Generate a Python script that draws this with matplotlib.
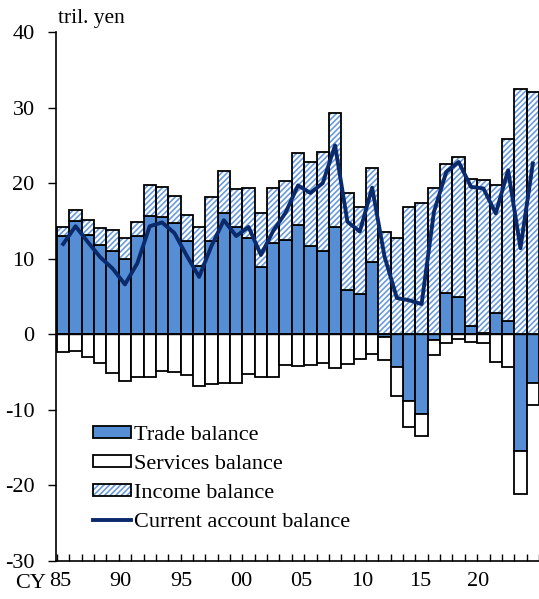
import matplotlib
matplotlib.use("Agg")
import matplotlib.pyplot as plt
import matplotlib.patches as mpatches
from matplotlib.lines import Line2D
import numpy as np

# ── colours ──────────────────────────────────────────────────────────────────
C_TRADE = "#558ED5"
C_HATCH = "#6A9BDD"
C_LINE = "#0B2A6B"

plt.rcParams["font.family"] = ["Liberation Serif", "DejaVu Serif"]
plt.rcParams["hatch.linewidth"] = 1.2
plt.rcParams["axes.unicode_minus"] = False

# ── data (tril. yen, calendar years) ─────────────────────────────────────────
years = list(range(1985, 2024))
trade = [13.0, 15.0, 13.2, 11.8, 11.0, 10.0, 13.0, 15.7, 15.5, 14.7,
         12.3, 9.1, 12.4, 16.0, 14.2, 12.7, 8.9, 12.1, 12.5, 14.4,
         11.7, 11.0, 14.2, 5.8, 5.3, 9.5, -0.3, -4.3, -8.8, -10.5,
         -0.8, 5.5, 4.9, 1.1, 0.2, 2.8, 1.8, -15.5, -6.5]
services = [-2.3, -2.2, -3.0, -3.8, -5.1, -6.2, -5.7, -5.6, -4.9, -5.0,
            -5.4, -6.8, -6.6, -6.5, -6.4, -5.2, -5.7, -5.7, -4.1, -4.2,
            -4.1, -3.8, -4.4, -3.9, -3.3, -2.6, -3.1, -3.8, -3.5, -3.0,
            -2.0, -1.1, -0.6, -1.0, -1.1, -3.7, -4.3, -5.6, -2.9]
income = [1.2, 1.5, 1.9, 2.3, 2.8, 2.7, 1.8, 4.1, 4.0, 3.6,
          3.5, 5.1, 5.8, 5.6, 5.0, 6.7, 7.2, 7.3, 7.8, 9.6,
          11.1, 13.1, 15.1, 12.9, 11.6, 12.5, 13.5, 12.8, 16.8, 17.4,
          19.4, 17.0, 18.6, 19.4, 20.2, 16.9, 24.0, 32.5, 32.1]
current = [11.95, 14.3, 12.2, 10.2, 8.7, 6.6, 9.4, 14.3, 14.8, 13.4,
           10.4, 7.6, 11.7, 15.1, 13.0, 14.2, 10.5, 13.7, 16.1, 19.7,
           18.7, 20.0, 25.0, 14.9, 13.6, 19.4, 10.3, 4.8, 4.5, 4.0,
           16.2, 21.5, 22.8, 19.5, 19.3, 16.0, 21.7, 11.4, 22.6]
tick_labels = ["85", "90", "95", "00", "05", "10", "15", "20"]
# label positions as laid out in the source (slightly compressed)
tick_pos = [1984.76, 1989.65, 1994.53, 1999.41, 2004.3, 2009.18, 2013.9, 2018.6]

x = np.array(years, dtype=float)
tr = np.array(trade)
sv = np.array(services)
inc = np.array(income)

tr_pos = np.clip(tr, 0, None)
tr_neg = np.clip(tr, None, 0)

FS = 16

fig = plt.figure(figsize=(5.39, 5.99), dpi=100)
ax = fig.add_axes([0.103, 0.0634, 0.897, 0.8832])

W = 1.0
EC = "black"
LW = 1.3

# trade
ax.bar(x, tr, width=W, color=C_TRADE, edgecolor=EC, linewidth=LW, zorder=2)
# services below negative trade
ax.bar(x, sv, width=W, bottom=tr_neg, color="white", edgecolor=EC,
       linewidth=LW, zorder=2)
# income on top of positive trade (hatch first, outline after)
ax.bar(x, inc, width=W, bottom=tr_pos, color="white", edgecolor=C_HATCH,
       hatch="//////", linewidth=0, zorder=2)
ax.bar(x, inc, width=W, bottom=tr_pos, fill=False, edgecolor=EC,
       linewidth=LW, zorder=3)

ax.axhline(0, color="black", lw=1.0, zorder=3)
ax.plot(x, current, color=C_LINE, lw=2.8, zorder=4)

# ── axes ─────────────────────────────────────────────────────────────────────
ax.set_xlim(1984.38, 2023.1)
ax.set_ylim(-30, 40)
ax.set_yticks(range(-30, 41, 10))
ax.tick_params(axis="y", direction="out", length=6, width=1, pad=9,
               labelsize=FS)
ax.set_xticks(tick_pos)
ax.set_xticklabels(tick_labels)
ax.set_xticks(np.arange(1984.5, 2023.6, 1.0), minor=True)
ax.tick_params(axis="x", which="major", length=0, pad=8, labelsize=FS)
ax.tick_params(axis="x", which="minor", direction="in", length=5, width=1)
for s in ["top", "right"]:
    ax.spines[s].set_visible(False)
for s in ["left", "bottom"]:
    ax.spines[s].set_linewidth(1.2)

fig.text(31 / 539, 1 - 583 / 599, "CY", fontsize=FS, ha="center", va="center")
fig.text(58 / 539, 1 - 19 / 599, "tril. yen", fontsize=15.5, ha="left",
         va="center")

# ── legend ───────────────────────────────────────────────────────────────────
h_trade = mpatches.Patch(facecolor=C_TRADE, edgecolor=EC, linewidth=1.3)
h_serv = mpatches.Patch(facecolor="white", edgecolor=EC, linewidth=1.3)
h_inc = (mpatches.Patch(facecolor="white", edgecolor=C_HATCH, hatch="//////",
                        linewidth=0),
         mpatches.Patch(fill=False, edgecolor=EC, linewidth=1.3))
h_cur = Line2D([], [], color=C_LINE, lw=2.8)
leg = ax.legend([h_trade, h_serv, h_inc, h_cur],
                ["Trade balance", "Services balance", "Income balance",
                 "Current account balance"],
                loc="upper left", bbox_to_anchor=(0.077, 0.255),
                frameon=False, fontsize=FS,
                handlelength=1.7, handleheight=0.45, handletextpad=0.15,
                labelspacing=0.45, borderaxespad=0, borderpad=0)

fig.savefig("out.png", dpi=100)
